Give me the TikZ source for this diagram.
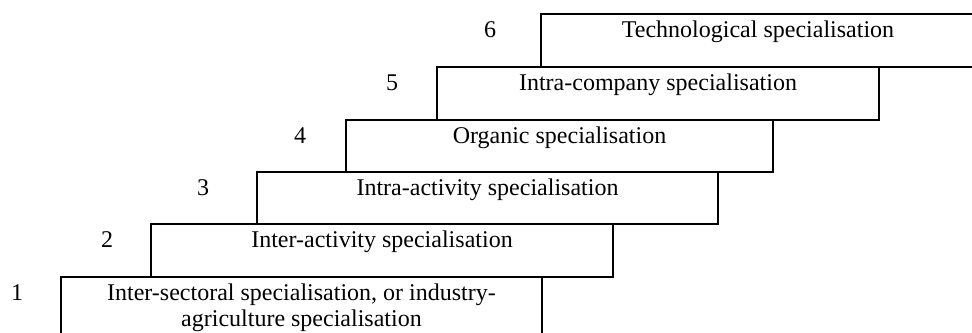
\documentclass[tikz,border=0pt]{standalone}
\usepackage{fontspec}
\setmainfont{Liberation Serif}
\usepackage{tikz}
\usetikzlibrary{positioning}

\tikzset{
  stepbox/.style={draw, line width=1pt, inner sep=0pt, anchor=north west},
  steptext/.style={inner sep=0pt, anchor=base, align=center, font=\fontsize{12}{13}\selectfont}
}

\begin{document}
\begin{tikzpicture}[x=0.5pt,y=-0.5pt]
\clip (0,0) rectangle (972,332);
\foreach \n/\l/\r/\t/\h in {1/60/541/276/80, 2/150/612/223/53, 3/256/717/171/52, 4/345/772/119/52, 5/436/878/66/53, 6/540/974/13/53}
{
\node[stepbox, minimum width=(\r-\l)*0.5pt, minimum height=\h*0.5pt] (box\n) at (\l,\t) {};
}
\foreach \n/\d in {1/43,2/43,3/53,4/45,5/44,6/50}
{
\node[steptext] (num\n) at ([xshift=-\d*0.5pt,yshift=-12pt]box\n.north west) {\n};
}
\node[steptext] (lab1) at ([yshift=-25pt]box1.north) {Inter-sectoral specialisation, or industry-\\agriculture specialisation};
\node[steptext] (lab2) at ([yshift=-12pt]box2.north) {Inter-activity specialisation};
\node[steptext] (lab3) at ([yshift=-12pt]box3.north) {Intra-activity specialisation};
\node[steptext] (lab4) at ([yshift=-12pt]box4.north) {Organic specialisation};
\node[steptext] (lab5) at ([yshift=-12pt]box5.north) {Intra-company specialisation};
\node[steptext] (lab6) at ([yshift=-12pt]box6.north) {Technological specialisation};
\end{tikzpicture}
\end{document}
